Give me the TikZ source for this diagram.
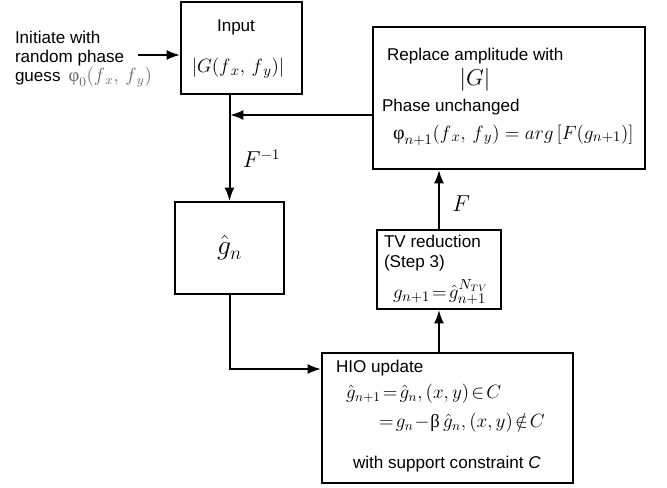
\documentclass[tikz,border=0pt]{standalone}
\usepackage{fontspec}
\setmainfont{Liberation Sans}
\newfontfamily\greekfont{Liberation Serif}
\usetikzlibrary{positioning,arrows.meta}
\tikzstyle{block} = [draw, rectangle, line width=1.5pt]
\tikzstyle{txt} = [anchor=base west, inner sep=0pt]
\tikzstyle{eq} = [anchor=west, inner sep=0pt, font=\fontsize{14}{17}\selectfont]
\newcommand{\fiup}{\mbox{\greekfont φ}}
\newcommand{\betaup}{\mbox{\greekfont β}}
\newcommand{\tightmath}{\thickmuskip=2mu\relax\medmuskip=1mu\relax}

\begin{document}
\begin{tikzpicture}[x=0.75pt, y=-0.75pt, line width=1.5pt, >={Latex[length=10pt,width=7.5pt]}, font=\fontsize{12.8}{15}\selectfont]
\useasboundingbox (0,0) rectangle (667,487);

\node [block, minimum width=90.75pt, minimum height=69pt] (input) at (241.5,48) {};
\node [block, minimum width=204pt, minimum height=106.5pt] (update) at (509,98) {};
\node [block, minimum width=81.75pt, minimum height=69pt, font=\fontsize{22}{26}\selectfont] (gn) at (229.5,248) {$\hat{g}_n$};
\node [block, minimum width=93pt, minimum height=59.25pt] (tv) at (439,269.5) {};
\node [block, minimum width=188.25pt, minimum height=97.5pt] (hio) at (447.5,418) {};

% input box
\node [anchor=base, inner sep=0pt] (inputtitle) at (236,31) {Input};
\node [inner sep=0pt, font=\fontsize{15}{18}\selectfont] (amp) at (238,68) {$|G(f_{\,x},\, f_{\,y})|$};

% initial guess
\node [anchor=north west, inner sep=0pt, align=left, font=\fontsize{12.8}{14.3}\selectfont] (init) at (14,30)
  {Initiate with\\random phase\\guess\hspace{6pt}{\color{black!60}\fontsize{14}{14}\selectfont$\fiup_0(f_{\,x},\, f_{\,y})$}};
\coordinate (seed) at (138,55);
\draw [->] (seed) -- (seed -| input.west);

% replace amplitude box
\node [txt] (replace) at (386,60) {Replace amplitude with};
\node [inner sep=0pt, font=\fontsize{18}{21}\selectfont] (absg) at (475,80) {$|G|$};
\node [txt] (phase) at (381,111) {Phase unchanged};
\node [eq, font=\fontsize{15}{18}\selectfont] (phasefml) at (392,135) {$\fiup_{n+1}(f_{\,x},\, f_{\,y})=arg\,[F(g_{n+1})]$};

% TV box
\node [txt] (tvtitle) at (383,247) {TV reduction};
\node [txt] (tvstep) at (383,267) {(Step 3)};
\node [eq, font=\fontsize{15}{18}\selectfont] (tvfml) at (392,292) {$\tightmath g_{n+1}=\hat{g}^{N_{TV}}_{n+1}$};

% HIO box
\node [txt] (hiotitle) at (335,372) {HIO update};
\node [eq] (hioone) at (345,394) {$\tightmath\hat{g}_{n+1}=\hat{g}_n,(x,y)\in C$};
\node [eq] (hiotwo) at (378,423) {$\tightmath=g_n-\betaup\,\hat{g}_n,(x,y)\notin C$};
\node [txt] (hiosupp) at (352,468) {with support constraint \textit{C}};

% connectors
\coordinate (merge) at (230,115);
\draw [->] (input.south -| gn.north) -- node[right, pos=0.6, xshift=6pt, font=\fontsize{16}{19}\selectfont] (finv) {$F^{-1}$} (gn.north);
\draw [->] (update.west |- merge) -- (merge);
\draw [->] (gn.south) |- ([yshift=-12.75pt]hio.north west);
\draw [->] (tv.south |- hio.north) -- (tv.south);
\draw [->] (tv.north) -- node[right, pos=0.43, xshift=6pt, font=\fontsize{16}{19}\selectfont] (fwd) {$F$} (tv.north |- update.south);

\end{tikzpicture}
\end{document}
